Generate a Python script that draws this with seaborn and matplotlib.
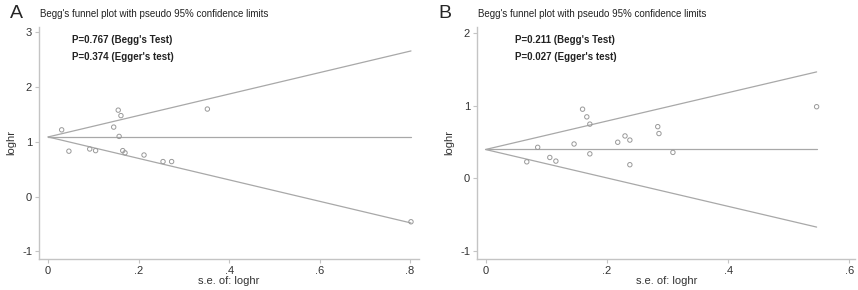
import numpy as np
import pandas as pd
import matplotlib
matplotlib.use('Agg')
import matplotlib.pyplot as plt
import seaborn as sns

# panel A data
se_a = [0.030, 0.046, 0.092, 0.105, 0.145, 0.155, 0.157, 0.161, 0.165, 0.170,
        0.212, 0.254, 0.273, 0.352, 0.802]
loghr_a = [1.22, 0.83, 0.87, 0.84, 1.27, 1.58, 1.10, 1.48, 0.84, 0.80,
           0.76, 0.64, 0.64, 1.60, -0.46]
pooled_a = 1.09
ptxt_a = ["P=0.767 (Begg's Test)", "P=0.374 (Egger's test)"]

# panel B data
se_b = [0.068, 0.086, 0.106, 0.116, 0.146, 0.160, 0.167, 0.172, 0.172, 0.218,
        0.230, 0.238, 0.238, 0.284, 0.286, 0.309, 0.546]
loghr_b = [0.23, 0.43, 0.29, 0.24, 0.476, 0.956, 0.85, 0.75, 0.34, 0.50,
           0.587, 0.53, 0.19, 0.715, 0.62, 0.36, 0.99]
pooled_b = 0.40
ptxt_b = ["P=0.211 (Begg's Test)", "P=0.027 (Egger's test)"]

sns.set_style('white')
plt.rcParams['font.family'] = ['Liberation Sans', 'DejaVu Sans']

gray = '#a8a8a8'
fig = plt.figure(figsize=(8.58, 2.90), dpi=100)


def funnel(ax, se, lhr, pooled, ptxt, xticks, xlabs, yticks, xlim, ylim, txt_x):
    df = pd.DataFrame({'se': se, 'loghr': lhr})
    smax = max(se)
    # pseudo 95% confidence limits
    lines = pd.DataFrame({
        'se': [0, smax, 0, smax, 0, smax],
        'loghr': [pooled, pooled + 1.96 * smax, pooled, pooled - 1.96 * smax, pooled, pooled],
        'grp': ['up', 'up', 'lo', 'lo', 'mid', 'mid'],
    })
    sns.lineplot(data=lines, x='se', y='loghr', units='grp', estimator=None,
                 color=gray, lw=0.9, ax=ax)
    sns.scatterplot(data=df, x='se', y='loghr', ax=ax, marker='o', s=10,
                    facecolor='none', edgecolor='#999999', linewidth=0.7, zorder=3)
    ax.set_xlim(xlim)
    ax.set_ylim(ylim)
    ax.set_xticks(xticks)
    ax.set_xticklabels(xlabs)
    ax.set_yticks(yticks)
    ax.set_yticklabels([str(t) for t in yticks])
    for s in ['top', 'right']:
        ax.spines[s].set_visible(False)
    for s in ['left', 'bottom']:
        ax.spines[s].set_color('#c4c4c4')
        ax.spines[s].set_linewidth(1.0)
    ax.tick_params(axis='both', bottom=True, left=True, length=3, width=0.8,
                   color='#c4c4c4', labelsize=8, labelcolor='#333333', pad=2,
                   direction='out')
    ax.set_xlabel('s.e. of: loghr', fontsize=8, color='#333333', labelpad=0)
    ax.set_ylabel('loghr', fontsize=8, color='#333333', labelpad=4)
    ax.text(txt_x, 0.945, ptxt[0], transform=ax.transAxes, fontsize=7,
            fontweight='bold', color='#222222', va='center')
    ax.text(txt_x, 0.87, ptxt[1], transform=ax.transAxes, fontsize=7,
            fontweight='bold', color='#222222', va='center')


ax1 = fig.add_axes([0.0455, 0.107, 0.443, 0.80])
funnel(ax1, se_a, loghr_a, pooled_a, ptxt_a, [0, 0.2, 0.4, 0.6, 0.8],
       ['0', '.2', '.4', '.6', '.8'], [-1, 0, 1, 2, 3], (-0.02, 0.82), (-1.14, 3.1), 0.087)
ax2 = fig.add_axes([0.556, 0.107, 0.441, 0.80])
funnel(ax2, se_b, loghr_b, pooled_b, ptxt_b, [0, 0.2, 0.4, 0.6],
       ['0', '.2', '.4', '.6'], [-1, 0, 1, 2], (-0.014, 0.61), (-1.11, 2.09), 0.10)

fig.text(10 / 858, 1 - 13 / 290, 'A', fontsize=14, va='center', ha='left')
fig.text(40 / 858, 1 - 14 / 290, "Begg's funnel plot with pseudo 95% confidence limits",
         fontsize=7, va='center', ha='left', color='#222222')
fig.text(438 / 858, 1 - 13 / 290, 'B', fontsize=14, va='center', ha='left')
fig.text(478 / 858, 1 - 14 / 290, "Begg's funnel plot with pseudo 95% confidence limits",
         fontsize=7, va='center', ha='left', color='#222222')

fig.savefig('out.png', dpi=100, facecolor='white')
